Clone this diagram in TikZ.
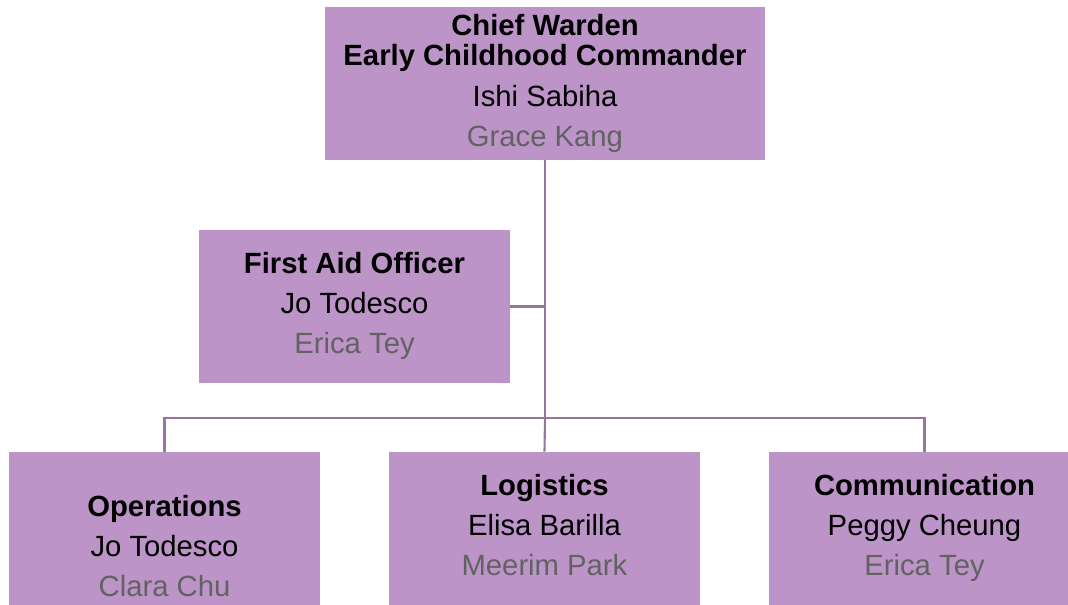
\documentclass[tikz,border=0pt]{standalone}
\usepackage{fontspec}
\setmainfont{Liberation Sans}
\usepackage{xcolor}
\usetikzlibrary{positioning, calc}
\definecolor{boxfill}{RGB}{188,148,200}
\definecolor{linkcol}{RGB}{152,116,162}
\definecolor{deputy}{RGB}{98,98,98}

\begin{document}
\begin{tikzpicture}[x=0.025cm, y=-0.025cm]
    % Define styles
    \tikzstyle{role} = [rectangle, fill=boxfill, inner sep=0pt, minimum width=311*0.025cm, minimum height=153*0.025cm, align=center, font=\fontsize{20.8}{22}\selectfont, execute at begin node={\rule{0pt}{29pt}}, execute at end node={\rule[-5pt]{0pt}{5pt}}]
    \tikzstyle{link} = [draw=linkcol, line width=1.5pt]
    \newcommand{\dep}[1]{\textcolor{deputy}{#1}}

    \clip (0,0) rectangle (1068,605);

    % Chief warden
    \node[role, minimum width=440*0.025cm] (chief) at (545,83.5) {\textbf{Chief Warden}\\\textbf{Early Childhood Commander}\\[6.5pt]Ishi Sabiha\\[6.5pt]\dep{Grace Kang}};

    % Assistant
    \node[role] (firstaid) at (354.5,306.5) {\textbf{First Aid Officer}\\[6.5pt]Jo Todesco\\[6.5pt]\dep{Erica Tey}};

    % Sections
    \node[role] (ops) at (164.5,528.5) {\\[23pt]\textbf{Operations}\\[6.5pt]Jo Todesco\\[6.5pt]\dep{Clara Chu}};
    \node[role] (logis) at (544.5,528.5) {\textbf{Logistics}\\[6.5pt]Elisa Barilla\\[6.5pt]\dep{Meerim Park}};
    \node[role] (comms) at (924.5,528.5) {\textbf{Communication}\\[6.5pt]Peggy Cheung\\[6.5pt]\dep{Erica Tey}};

    % Links
    \coordinate (bar) at (545,418);
    \draw[link] (chief.south) -- (bar);
    \draw[link] (firstaid.east) -- (firstaid.east -| bar);
    \draw[link] (ops.north) |- (bar) -| (comms.north);
    \draw[link] (bar) -- (logis.north);

\end{tikzpicture}
\end{document}
